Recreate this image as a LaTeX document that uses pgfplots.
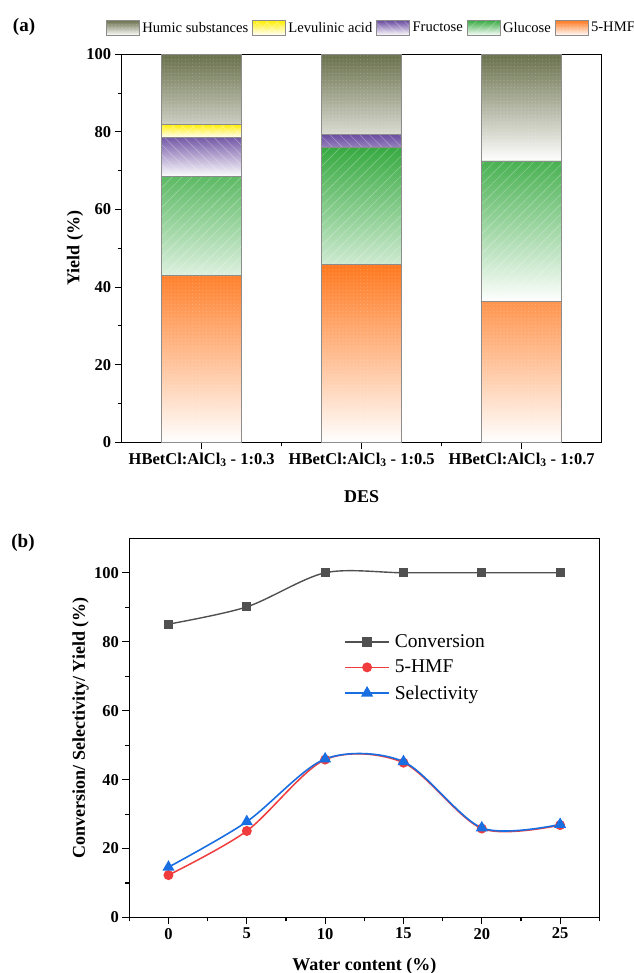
\documentclass[border=0pt]{standalone}
\usepackage{fontspec}
\setmainfont{Liberation Serif}
\usepackage{pgfplots}
\usepackage{pgfplotstable}
\pgfplotsset{compat=1.18}
\usetikzlibrary{patterns.meta}

\definecolor{humic}{RGB}{105,112,75}
\definecolor{levul}{RGB}{255,238,0}
\definecolor{fruct}{RGB}{105,75,160}
\definecolor{gluc}{RGB}{55,170,65}
\definecolor{hmf}{RGB}{255,120,30}
\definecolor{convgray}{RGB}{80,80,80}
\definecolor{hmfred}{RGB}{240,60,60}
\definecolor{selblue}{RGB}{25,110,225}

% product distribution for the three DES ratios (stacked, sums to 100)
\pgfplotstableread{
x hmf glc fru lev hum
0 43.0 25.4 10.1 3.5 18.0
1 45.9 30.0 3.5 0 20.6
2 36.2 36.3 0 0 27.5
}\yieldtable

\pgfplotsset{
  segment/.style 2 args={draw=black!45, line width=0.8pt,
    top color=#1, bottom color=white,
    postaction={pattern={#2}, pattern color=white, fill opacity=0.7}},
  panel/.style={
    scale only axis,
    tick align=outside, xtick pos=bottom, ytick pos=left,
    major tick length=7pt, minor tick length=4pt,
    tick style={black, line width=1.1pt},
    minor tick style={black, line width=1.1pt},
    axis line style={black, line width=1.3pt},
    ticklabel style={font=\fontsize{16.5}{18}\selectfont\bfseries},
    /pgf/number format/assume math mode=true,
    label style={font=\fontsize{18}{20}\selectfont\bfseries},
  },
}

\begin{document}
\begin{tikzpicture}
\path[use as bounding box] (0,0) rectangle (633pt,973pt);

\node[font=\fontsize{19}{21}\selectfont\bfseries] at (24pt,946pt) {(a)};
\node[font=\fontsize{19}{21}\selectfont\bfseries] at (23pt,430pt) {(b)};

% (a) stacked yields
\begin{axis}[panel,
  at={(121.7pt,530.7pt)}, anchor=south west,
  width=480pt, height=388pt,
  ybar stacked, bar width=0.5,
  xmin=-0.5, xmax=2.5, ymin=0, ymax=100,
  xtick={0,1,2},
  xticklabels={HBetCl:AlCl\textsubscript{3} - 1:0.3,
               HBetCl:AlCl\textsubscript{3} - 1:0.5,
               HBetCl:AlCl\textsubscript{3} - 1:0.7},
  minor xtick={0.5,1.5},
  ytick={0,20,40,60,80,100}, minor ytick={10,30,50,70,90},
  xlabel={DES}, ylabel={Yield (\%)},
  xlabel style={at={(axis description cs:0.5,-0.141)}, anchor=center},
  ylabel style={at={(axis description cs:-0.0973,0.5)}, anchor=center},
  legend columns=5, reverse legend,
  legend style={at={(axis description cs:-0.0327,1.068)}, anchor=west,
    draw=none, fill=none, inner sep=0pt,
    font=\fontsize{14.6}{16}\selectfont, nodes={inner sep=0pt},
    /tikz/every odd column/.append style={column sep=2.4pt},
    /tikz/every even column/.append style={column sep=4pt}},
  legend image code/.code={\draw[#1] (0pt,-7.5pt) rectangle (33pt,7.5pt);},
]
\addplot[segment={hmf}{Dots[distance=3.5pt,radius=0.6pt]}] table[x=x,y=hmf] {\yieldtable};
\addlegendentry{5-HMF}
\addplot[segment={gluc}{Lines[angle=45,distance=7pt,line width=0.6pt]}] table[x=x,y=glc] {\yieldtable};
\addlegendentry{Glucose}
\addplot[segment={fruct}{Lines[angle=-45,distance=7pt,line width=0.6pt]}] table[x=x,y=fru] {\yieldtable};
\addlegendentry{Fructose}
\addplot[segment={levul}{Hatch[angle=45,distance=7pt,line width=0.6pt]}] table[x=x,y=lev] {\yieldtable};
\addlegendentry{Levulinic acid}
\addplot[segment={humic}{Dots[distance=3.5pt,radius=0.6pt]}] table[x=x,y=hum] {\yieldtable};
\addlegendentry{Humic substances}
\end{axis}

% (b) effect of water content
\begin{axis}[panel,
  at={(129.3pt,55.5pt)}, anchor=south west,
  width=470pt, height=379.2pt,
  xmin=-2.5, xmax=27.5, ymin=0, ymax=110,
  xtick={0,5,10,15,20,25},
  minor xtick={-2.5,2.5,7.5,12.5,17.5,22.5,27.5},
  ytick={0,20,40,60,80,100}, minor ytick={10,30,50,70,90},
  xlabel={Water content (\%)},
  ylabel={Conversion/ Selectivity/ Yield (\%)},
  xlabel style={at={(axis description cs:0.5,-0.128)}, anchor=center},
  ylabel style={at={(axis description cs:-0.1038,0.5)}, anchor=center},
  legend cell align=left,
  legend style={at={(axis description cs:0.457,0.746)}, anchor=north west,
    draw=none, fill=none, inner sep=0pt,
    font=\fontsize{19.5}{21}\selectfont, nodes={inner sep=0pt},
    row sep=11pt,
    /tikz/every odd column/.append style={column sep=5pt}},
  legend image code/.code={\draw[mark repeat=2,mark phase=2,#1]
      plot coordinates {(0pt,0pt) (22pt,0pt) (44pt,0pt)};},
]
\addplot[convgray, line width=1.4pt, smooth, mark=square*, mark size=3.9pt,
  mark options={solid, fill=convgray}]
  coordinates {(0,85.1) (5,90.1) (10,100) (15,100) (20,100) (25,100)};
\addlegendentry{Conversion}
\addplot[hmfred, line width=1.5pt, smooth, mark=*, mark size=4.2pt,
  mark options={solid, fill=hmfred}]
  coordinates {(0,12.3) (5,25.1) (10,45.8) (15,44.9) (20,25.8) (25,26.8)};
\addlegendentry{5-HMF}
\addplot[selblue, line width=1.6pt, smooth, mark=triangle*, mark size=5.4pt,
  mark options={solid, fill=selblue}]
  coordinates {(0,14.6) (5,27.8) (10,46.0) (15,45.2) (20,26.0) (25,27.0)};
\addlegendentry{Selectivity}
\end{axis}
\end{tikzpicture}
\end{document}
